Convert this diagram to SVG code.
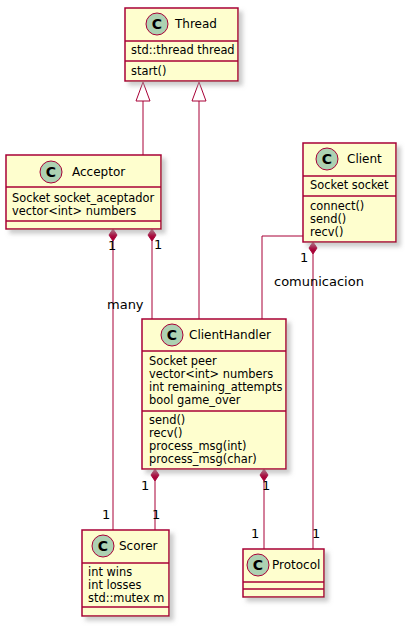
<svg xmlns="http://www.w3.org/2000/svg" width="405" height="626" viewBox="0 0 405 626">
<defs>
<filter id="sh" x="-20%" y="-20%" width="150%" height="150%">
<feGaussianBlur in="SourceAlpha" stdDeviation="2"/>
<feOffset dx="4" dy="4" result="b"/>
<feColorMatrix in="b" type="matrix" values="0 0 0 0 0.4  0 0 0 0 0.4  0 0 0 0 0.4  0 0 0 0.6 0"/>
<feMerge><feMergeNode/><feMergeNode in="SourceGraphic"/></feMerge>
</filter>
</defs>
<style>
.box{fill:#FEFECE;stroke:#A80036;stroke-width:1.5;filter:url(#sh)}
.sep{stroke:#A80036;stroke-width:1.5}
.ci{fill:#ADD1B2;stroke:#A80036;stroke-width:1}
.c{font-family:"DejaVu Sans",sans-serif;font-size:14px;font-weight:bold;fill:#000;text-anchor:middle}
.nm{font-family:"DejaVu Sans",sans-serif;font-size:12px;fill:#000}
.at{font-family:"DejaVu Sans",sans-serif;font-size:11.4px;fill:#000}
.lb{font-family:"DejaVu Sans",sans-serif;font-size:13px;fill:#000}
.ln{stroke:#A80036;stroke-width:1;fill:none}
.tri{fill:#FFFFFF;stroke:#A80036;stroke-width:1}
.dia{fill:#A80036;stroke:#A80036;stroke-width:1}
</style>
<g id="connectors">
<line class="ln" x1="143" y1="101" x2="143" y2="155"/>
<polygon class="tri" points="143,82 136,101 150,101"/>
<line class="ln" x1="199" y1="101" x2="199" y2="319"/>
<polygon class="tri" points="199,82 192,101 206,101"/>
<line class="ln" x1="113" y1="241" x2="113" y2="530"/>
<polygon class="dia" points="113,229 109,235 113,241 117,235"/>
<line class="ln" x1="152" y1="241" x2="152" y2="319"/>
<polygon class="dia" points="152,229 148,235 152,241 156,235"/>
<polyline class="ln" points="303,236 262,236 262,319"/>
<line class="ln" x1="313" y1="254" x2="313" y2="549"/>
<polygon class="dia" points="313,242 309,248 313,254 317,248"/>
<line class="ln" x1="155" y1="481" x2="155" y2="530"/>
<polygon class="dia" points="155,469 151,475 155,481 159,475"/>
<line class="ln" x1="264" y1="481" x2="264" y2="549"/>
<polygon class="dia" points="264,469 260,475 264,481 268,475"/>
<text class="lb" x="108" y="250">1</text>
<text class="lb" x="154" y="249">1</text>
<text class="lb" x="107" y="309">many</text>
<text class="lb" x="300" y="262">1</text>
<text class="lb" x="274" y="286">comunicacion</text>
<text class="lb" x="141" y="490">1</text>
<text class="lb" x="262" y="490">1</text>
<text class="lb" x="102" y="519">1</text>
<text class="lb" x="152" y="519">1</text>
<text class="lb" x="251" y="538">1</text>
<text class="lb" x="312" y="538">1</text>
</g>
<g id="Thread">
<rect class="box" x="125" y="8" width="113" height="73"/>
<line class="sep" x1="125" y1="41" x2="238" y2="41"/>
<line class="sep" x1="125" y1="61" x2="238" y2="61"/>
<circle class="ci" cx="157" cy="24" r="11"/>
<text class="c" x="157" y="29">C</text>
<text class="nm" x="175" y="28">Thread</text>
<text class="at" x="131" y="54">std::thread thread</text>
<text class="at" x="131" y="75">start()</text>
</g>
<g id="Acceptor">
<rect class="box" x="6" y="155" width="155" height="74"/>
<line class="sep" x1="6" y1="187" x2="161" y2="187"/>
<line class="sep" x1="6" y1="221" x2="161" y2="221"/>
<circle class="ci" cx="51" cy="172" r="11"/>
<text class="c" x="51" y="177">C</text>
<text class="nm" x="72" y="176">Acceptor</text>
<text class="at" x="12" y="202">Socket socket_aceptador</text>
<text class="at" x="12" y="215">vector&lt;int&gt; numbers</text>
</g>
<g id="Client">
<rect class="box" x="303" y="143" width="93" height="99"/>
<line class="sep" x1="303" y1="176" x2="396" y2="176"/>
<line class="sep" x1="303" y1="196" x2="396" y2="196"/>
<circle class="ci" cx="327" cy="159" r="11"/>
<text class="c" x="327" y="164">C</text>
<text class="nm" x="347" y="163">Client</text>
<text class="at" x="310" y="189">Socket socket</text>
<text class="at" x="310" y="210">connect()</text>
<text class="at" x="310" y="223">send()</text>
<text class="at" x="310" y="236">recv()</text>
</g>
<g id="ClientHandler">
<rect class="box" x="142" y="319" width="144" height="150"/>
<line class="sep" x1="142" y1="351" x2="286" y2="351"/>
<line class="sep" x1="142" y1="411" x2="286" y2="411"/>
<circle class="ci" cx="172" cy="335" r="11"/>
<text class="c" x="172" y="340">C</text>
<text class="nm" x="189" y="339">ClientHandler</text>
<text class="at" x="149" y="365">Socket peer</text>
<text class="at" x="149" y="378">vector&lt;int&gt; numbers</text>
<text class="at" x="149" y="391">int remaining_attempts</text>
<text class="at" x="149" y="404">bool game_over</text>
<text class="at" x="149" y="424">send()</text>
<text class="at" x="149" y="437">recv()</text>
<text class="at" x="149" y="450">process_msg(int)</text>
<text class="at" x="149" y="463">process_msg(char)</text>
</g>
<g id="Scorer">
<rect class="box" x="82" y="530" width="87" height="86"/>
<line class="sep" x1="82" y1="563" x2="169" y2="563"/>
<line class="sep" x1="82" y1="607" x2="169" y2="607"/>
<circle class="ci" cx="103" cy="546" r="11"/>
<text class="c" x="103" y="551">C</text>
<text class="nm" x="119" y="550">Scorer</text>
<text class="at" x="88" y="576">int wins</text>
<text class="at" x="88" y="589">int losses</text>
<text class="at" x="88" y="602">std::mutex m</text>
</g>
<g id="Protocol">
<rect class="box" x="243" y="549" width="81" height="48"/>
<line class="sep" x1="243" y1="582" x2="324" y2="582"/>
<line class="sep" x1="243" y1="589" x2="324" y2="589"/>
<circle class="ci" cx="258" cy="565" r="11"/>
<text class="c" x="258" y="570">C</text>
<text class="nm" x="272" y="569">Protocol</text>
</g>
</svg>
